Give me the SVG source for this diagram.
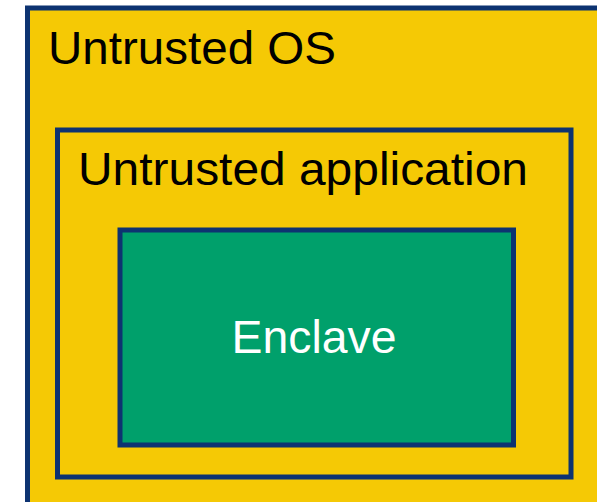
<svg xmlns="http://www.w3.org/2000/svg" width="597" height="502" viewBox="0 0 597 502">
  <style>
    .frame { stroke: #0d3371; stroke-width: 5; }
    .os { fill: #f5c905; }
    .app { fill: #f5c905; }
    .enclave { fill: #00a06b; }
    .label { font-family: "Liberation Sans", Arial, sans-serif; font-size: 46px; fill: #000000; }
    .label-light { fill: #ffffff; }
  </style>
  <rect width="597" height="502" fill="#ffffff"/>
  <g id="untrusted-os">
    <rect class="frame os" x="27.5" y="8" width="600" height="520"/>
    <text class="label" x="48" y="63.5" textLength="288" lengthAdjust="spacingAndGlyphs">Untrusted OS</text>
  </g>
  <g id="untrusted-application">
    <rect class="frame app" x="57.5" y="130" width="513.5" height="347"/>
    <text class="label" x="78" y="185" textLength="450" lengthAdjust="spacingAndGlyphs">Untrusted application</text>
  </g>
  <g id="enclave">
    <rect class="frame enclave" x="120" y="230" width="393.5" height="215"/>
    <text class="label label-light" x="231.5" y="353.3" textLength="165" lengthAdjust="spacingAndGlyphs">Enclave</text>
  </g>
  <g id="connectors"/>
</svg>
